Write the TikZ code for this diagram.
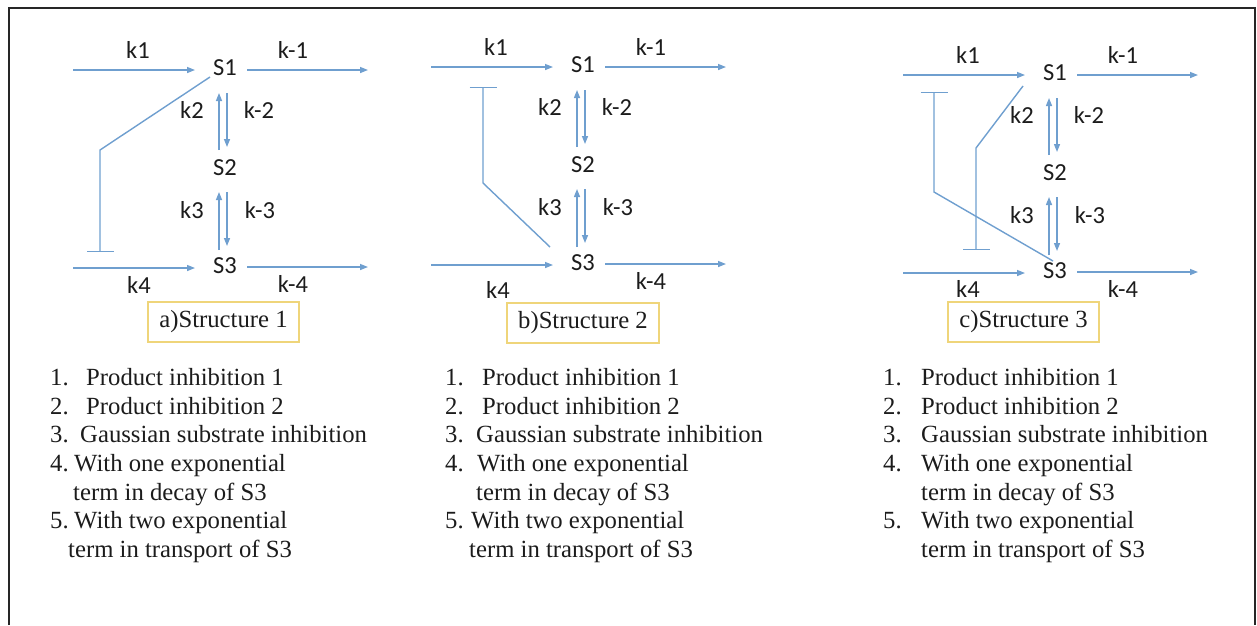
\documentclass[tikz,border=0pt]{standalone}
\usepackage{fontspec}
\setmainfont{Liberation Serif}
\newfontfamily\labfont{Carlito}
\usetikzlibrary{arrows.meta}
\definecolor{flow}{HTML}{6F9FCF}
\definecolor{capbox}{HTML}{EFD57A}
\definecolor{ink}{HTML}{1C1C1C}

% One reaction network: S1, S2, S3 with their in/out fluxes and rate labels.
% #1 tag, #2 origin (centre of S1), #3 offset of the k4 label
\newcommand\drawnetwork[3]{%
  \begin{scope}[shift={#2}]
    \node[species] (#1S1) at (0,0) {S1};
    \node[species] (#1S2) at (0,100) {S2};
    \node[species] (#1S3) at (0,198) {S3};
    \coordinate (#1in1) at (-152,2);
    \coordinate (#1out1) at (143,2);
    \coordinate (#1in3) at (-152,200);
    \coordinate (#1out3) at (143,199);
    \draw[flux] (#1in1) -- ([shift={(-30,2)}]#1S1.center);
    \draw[flux] ([shift={(22,2)}]#1S1.center) -- (#1out1);
    \draw[flux] (#1in3) -- ([shift={(-30,2)}]#1S3.center);
    \draw[flux] ([shift={(22,1)}]#1S3.center) -- (#1out3);
    \draw[flux] ([shift={(-6,-18)}]#1S2.center) -- ([shift={(-6,25)}]#1S1.center);
    \draw[flux] ([shift={(2,25)}]#1S1.center) -- ([shift={(2,-21)}]#1S2.center);
    \draw[flux] ([shift={(-6,-16)}]#1S3.center) -- ([shift={(-6,24)}]#1S2.center);
    \draw[flux] ([shift={(2,24)}]#1S2.center) -- ([shift={(2,-20)}]#1S3.center);
    \node[rate] (#1k1) at (-87,-18) {k1};
    \node[rate] (#1km1) at (68,-18) {k-1};
    \node[rate] (#1k2) at (-33,42) {k2};
    \node[rate] (#1km2) at (34,42) {k-2};
    \node[rate] (#1k3) at (-33,142) {k3};
    \node[rate] (#1km3) at (35,142) {k-3};
    \node[rate] (#1k4) at #3 {k4};
    \node[rate] (#1km4) at (68,216) {k-4};
  \end{scope}}

% The numbered list under each network.
% #1 tag, #2 x of the numbers, #3..#9 x of the seven text lines
\newcommand\itemlist[9]{%
  \node[item] (#1n1) at (#2,385) {1.};
  \node[item] (#1t1) at (#3,385) {Product inhibition 1};
  \node[item] (#1n2) at (#2,414) {2.};
  \node[item] (#1t2) at (#4,414) {Product inhibition 2};
  \node[item] (#1n3) at (#2,442) {3.};
  \node[item] (#1t3) at (#5,442) {Gaussian substrate inhibition};
  \node[item] (#1n4) at (#2,471) {4.};
  \node[item] (#1t4) at (#6,471) {With one exponential};
  \node[item] (#1t5) at (#7,500) {term in decay of S3};
  \node[item] (#1n5) at (#2,528) {5.};
  \node[item] (#1t6) at (#8,528) {With two exponential};
  \node[item] (#1t7) at (#9,557) {term in transport of S3};}

\begin{document}
\begin{tikzpicture}[x=1pt,y=-1pt,
  species/.style={font=\labfont\fontsize{24.5}{24.5}\selectfont, inner sep=0pt, text=ink},
  rate/.style={font=\labfont\fontsize{24.5}{24.5}\selectfont, inner sep=0pt, text=ink},
  flux/.style={draw=flow, line width=1.4pt, -{Triangle[length=8pt,width=6pt]}},
  inhibit/.style={draw=flow, line width=1.4pt, -{Bar[width=27pt,line width=1.4pt]}},
  caption/.style={draw=capbox, line width=1.2pt, text=ink,
    font=\fontsize{24.7}{24.7}\selectfont, minimum height=40pt, inner sep=0pt},
  item/.style={font=\fontsize{24.7}{24.7}\selectfont, anchor=base west,
    inner sep=0pt, text=ink}]
\useasboundingbox (0,0) rectangle (1257,625);

% outer frame, open at the bottom
\draw[line width=2pt, black!85] (9,625) -- (9,8) -- (1255,8) -- (1255,625);

% the three structures
\drawnetwork{a}{(225,68)}{(-86,217)}
\drawnetwork{b}{(583,65)}{(-85,225)}
\drawnetwork{c}{(1055,73)}{(-87,216)}

% inhibition links
\coordinate (aknee) at (100,150);
\coordinate (aend) at (100,252);
\draw[inhibit] ([shift={(-15,9)}]aS1.center) -- (aknee) -- (aend);

\coordinate (bknee) at (483,183);
\coordinate (bend) at (483,87);
\draw[inhibit] ([shift={(-33,-16)}]bS3.center) -- (bknee) -- (bend);

\coordinate (cknee1) at (934,192);
\coordinate (cend1) at (934,92);
\draw[inhibit] ([shift={(-2,-10)}]cS3.center) -- (cknee1) -- (cend1);
\coordinate (cknee2) at (976,148);
\coordinate (cend2) at (976,250);
\draw[inhibit] ([shift={(-32,13)}]cS1.center) -- (cknee2) -- (cend2);

% captions
\node[caption, minimum width=151pt] (acap) at (223.5,322) {a)Structure 1};
\node[caption, minimum width=152pt] (bcap) at (583,323) {b)Structure 2};
\node[caption, minimum width=151pt] (ccap) at (1023.5,322) {c)Structure 3};

% lists
\itemlist{a}{50}{86}{86}{80}{74}{73}{74}{68}
\itemlist{b}{445}{482}{482}{476}{477}{476}{471}{469}
\itemlist{c}{883}{921}{921}{921}{921}{921}{921}{921}
\end{tikzpicture}
\end{document}
